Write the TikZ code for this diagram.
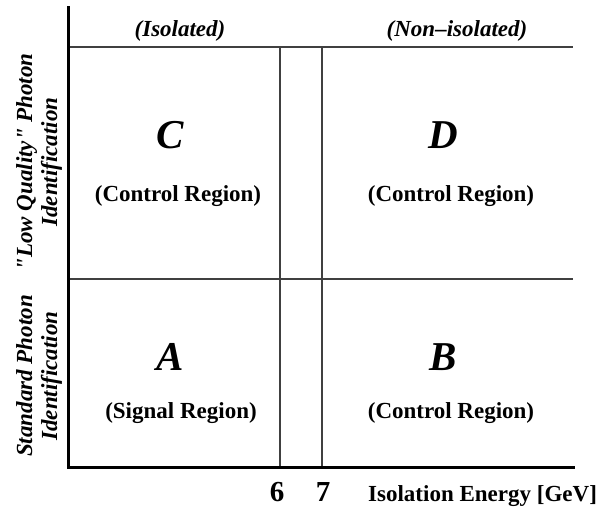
\documentclass[tikz,border=0pt]{standalone}
\usepackage{fontspec}
\setmainfont{Liberation Serif}[Ligatures=TeXOff]
\begin{document}
\begin{tikzpicture}[x=1pt,y=-1pt,
  axisline/.style={line width=3pt,black},
  gridline/.style={line width=1.2pt,black!75},
  lbl/.style={font=\fontsize{23}{25}\selectfont\bfseries, inner sep=0pt, anchor=base},
  ilbl/.style={font=\fontsize{23}{25}\selectfont\bfseries\itshape, inner sep=0pt, anchor=base},
  big/.style={font=\fontsize{41}{43}\selectfont\bfseries\itshape, inner sep=0pt, anchor=base},
  num/.style={font=\fontsize{29}{31}\selectfont\bfseries, inner sep=0pt, anchor=base},
  side/.style={font=\fontsize{23}{25}\selectfont\bfseries\itshape, inner sep=0pt, rotate=90, align=center}]
\useasboundingbox (0,0) rectangle (613,506);
% coordinates
\coordinate (ytop) at (68,7);
\coordinate (orig) at (68,467);
\coordinate (xend) at (573,467);
\coordinate (t0) at (68,47);
\coordinate (t1) at (573,47);
\coordinate (m0) at (68,279);
\coordinate (m1) at (573,279);
\coordinate (v6t) at (280,47);
\coordinate (v6b) at (280,467);
\coordinate (v7t) at (322,47);
\coordinate (v7b) at (322,467);
% grid
\draw[gridline] (t0) -- (t1);
\draw[gridline] (m0) -- (m1);
\draw[gridline] (v6t) -- (v6b);
\draw[gridline] (v7t) -- (v7b);
% axes
\draw[axisline, line cap=rect] (ytop) -- (orig) -- (xend);
% column headers
\node[ilbl] (iso) at (180,36) {(Isolated)};
\node[ilbl] (noniso) at (457,36) {(Non\textendash isolated)};
% region letters
\node[big] (C) at (170,148) {C};
\node[lbl] (Cr) at (178,201) {(Control Region)};
\node[big] (D) at (443,148) {D};
\node[lbl] (Dr) at (451,201) {(Control Region)};
\node[big] (A) at (170,370) {A};
\node[lbl] (Ar) at (181,418) {(Signal Region)};
\node[big] (B) at (443,370) {B};
\node[lbl] (Br) at (451,418) {(Control Region)};
% x labels
\node[num] (six) at (277,501) {6};
\node[num] (seven) at (323,501) {7};
\node[lbl, anchor=base west] (xlab) at (368,501) {Isolation Energy [GeV]};
% y labels
\node[side] (lq) at (39,162) {"Low Quality" Photon\\Identification};
\node[side] (sp) at (39,376) {Standard Photon\\Identification};
\end{tikzpicture}
\end{document}
